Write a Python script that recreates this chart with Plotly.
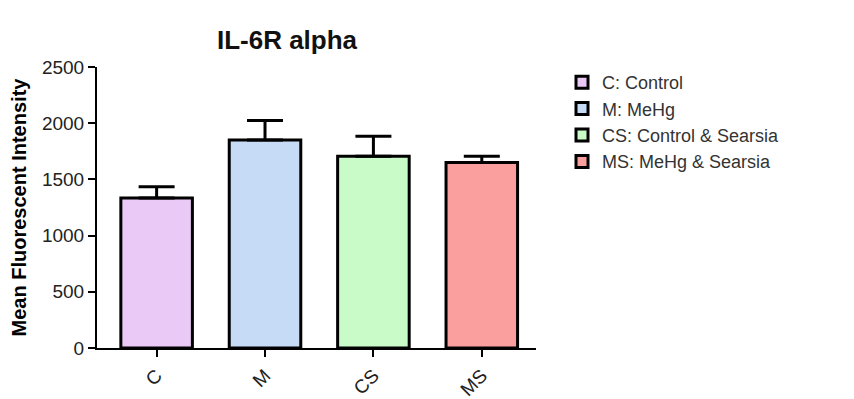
import plotly.graph_objects as go

categories = ["C", "M", "CS", "MS"]
legend_names = ["C: Control", "M: MeHg", "CS: Control & Searsia", "MS: MeHg & Searsia"]
means = [1335, 1850, 1705, 1650]
sem = [100, 175, 180, 55]
colors = ["#EAC9F6", "#C6DBF6", "#C9FBC9", "#FB9E9E"]

fig = go.Figure()
for cat, name, m, e, c in zip(categories, legend_names, means, sem, colors):
    fig.add_trace(go.Bar(
        x=[cat], y=[m], name=name,
        width=0.66,
        marker=dict(color=c, line=dict(color="black", width=3)),
        error_y=dict(type="data", symmetric=False, array=[e], arrayminus=[0],
                     color="black", thickness=3, width=18),
    ))

fig.update_layout(
    width=854, height=399,
    barmode="overlay",
    plot_bgcolor="white", paper_bgcolor="white",
    margin=dict(l=97, r=318, t=67, b=51),
    font=dict(family="Liberation Sans, Arial", color="#222222", size=19),
    title=dict(text="<b>IL-6R alpha</b>", x=287 / 854, xanchor="center",
               y=1 - 40 / 399, yanchor="middle",
               font=dict(size=26, color="#111111")),
    showlegend=True,
    legend=dict(xref="container", yref="container", x=562 / 854, y=1 - 64 / 399,
                xanchor="left", yanchor="top", font=dict(size=18, color="#333333"),
                bgcolor="rgba(0,0,0,0)", tracegroupgap=0, itemwidth=30),
    xaxis=dict(range=[-0.55, 3.5], showline=True, linecolor="black", linewidth=2,
               ticks="outside", ticklen=7, tickwidth=2, tickcolor="black",
               tickangle=-45, tickfont=dict(size=19), automargin=False,
               showgrid=False, zeroline=False),
    yaxis=dict(range=[0, 2500], tickvals=[0, 500, 1000, 1500, 2000, 2500],
               showline=True, linecolor="black", linewidth=2,
               ticks="outside", ticklen=7, tickwidth=2, tickcolor="black",
               showgrid=False, zeroline=False, tickfont=dict(size=19), automargin=False,
               title=dict(text="<b>Mean Fluorescent Intensity</b>", standoff=10,
                          font=dict(size=20, color="black"))),
)

fig.write_html("out.html")
